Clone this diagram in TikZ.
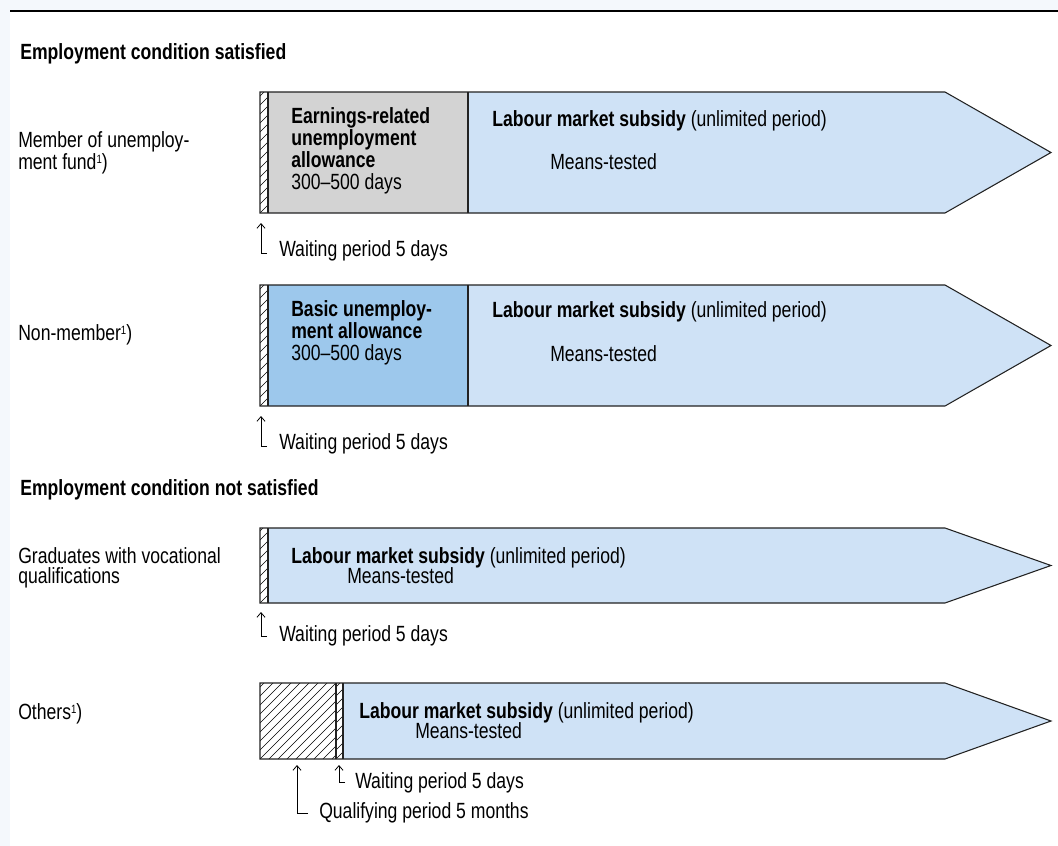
\documentclass[tikz,border=0pt]{standalone}
\usepackage{fontspec}
\setmainfont{Liberation Sans}[FakeStretch=0.80]
\usetikzlibrary{arrows.meta}
\definecolor{grayfill}{HTML}{D3D3D3}
\definecolor{lightblue}{HTML}{CFE2F6}
\definecolor{midblue}{HTML}{9DC8EC}
\definecolor{edgecol}{HTML}{222222}
\definecolor{bgtint}{HTML}{F4F8FC}
\newcommand\myhatch[4]{%
  \begin{scope}
    \clip (#1,#2) rectangle (#3,#4);
    \foreach \s in {-135,-126,...,95} {\draw[hatchline] (#1+\s,#4) -- ++(140,-140);}
  \end{scope}}
\newcommand\fn{\raisebox{4.5pt}{\fontsize{9}{9}\selectfont 1}}
\begin{document}
\begin{tikzpicture}[x=0.75pt,y=-0.75pt,
  txt/.style={anchor=base west,inner sep=0pt,font=\fontsize{16.5}{15}\selectfont},
  btxt/.style={txt,font=\fontsize{16.5}{15}\selectfont\bfseries},
  multi/.style={txt,align=left},
  hatchline/.style={line width=0.45pt,black},
  outline/.style={draw=edgecol,line width=0.8pt},
  arr/.style={line width=0.6pt,-{Straight Barb[length=3.5pt,width=6pt]}},
  rule/.style={line width=1.3pt,black}]
\useasboundingbox (0,0) rectangle (1058,846);
\fill[bgtint] (0,0) rectangle (1058,10);
\fill[bgtint] (0,0) rectangle (10,846);
\coordinate (ruleL) at (10,11);
\coordinate (ruleR) at (1058,11);
\draw[rule] (ruleL) -- (ruleR);

% headings
\node[btxt] (h1) at (20,59) {Employment condition satisfied};
\node[btxt] (h2) at (20,495) {Employment condition not satisfied};

% ---------- Row 1 ----------
\fill[lightblue] (268,92) -- (945,92) -- (1051,152.5) -- (945,213) -- (268,213) -- cycle;
\fill[grayfill] (268,92) rectangle (468,213);
\myhatch{260}{92}{268}{213}
\draw[outline] (260,92) -- (945,92) -- (1051,152.5) -- (945,213) -- (260,213) -- cycle;
\draw[outline] (268,92) -- (268,213);
\draw[outline] (468,92) -- (468,213);
\node[multi] (lab1) at (18,169) {Member of unemploy-\\ment fund\fn)};
\node[multi] (e1) at (291,189) {\textbf{Earnings-related}\\\textbf{unemployment}\\\textbf{allowance}\\[1.5pt]300–500 days};
\node[txt] (l1) at (492,126) {\textbf{Labour market subsidy} (unlimited period)};
\node[txt] (m1) at (550,169) {Means-tested};
\coordinate (t1) at (261,223);
\coordinate (c1) at (261,253);
\coordinate (e1end) at (267,253);
\draw[arr] (e1end) -- (c1) -- (t1);
\node[txt] (w1) at (279,256) {Waiting period 5 days};

% ---------- Row 2 ----------
\fill[lightblue] (268,285) -- (945,285) -- (1051,345.5) -- (945,406) -- (268,406) -- cycle;
\fill[midblue] (268,285) rectangle (468,406);
\myhatch{260}{285}{268}{406}
\draw[outline] (260,285) -- (945,285) -- (1051,345.5) -- (945,406) -- (260,406) -- cycle;
\draw[outline] (268,285) -- (268,406);
\draw[outline] (468,285) -- (468,406);
\node[txt] (lab2) at (18,340) {Non-member\fn)};
\node[multi] (b2) at (291,360) {\textbf{Basic unemploy-}\\\textbf{ment allowance}\\[1.5pt]300–500 days};
\node[txt] (l2) at (492,317) {\textbf{Labour market subsidy} (unlimited period)};
\node[txt] (m2) at (550,361) {Means-tested};
\coordinate (t2) at (261,416);
\coordinate (c2) at (261,446);
\coordinate (e2end) at (267,446);
\draw[arr] (e2end) -- (c2) -- (t2);
\node[txt] (w2) at (279,449) {Waiting period 5 days};

% ---------- Row 3 ----------
\fill[lightblue] (268,528) -- (945,528) -- (1051,565.5) -- (945,603) -- (268,603) -- cycle;
\myhatch{260}{528}{268}{603}
\draw[outline] (260,528) -- (945,528) -- (1051,565.5) -- (945,603) -- (260,603) -- cycle;
\draw[outline] (268,528) -- (268,603);
\node[multi] (lab3) at (18,583) {Graduates with vocational\\qualifications};
\node[txt] (l3) at (291,563) {\textbf{Labour market subsidy} (unlimited period)};
\node[txt] (m3) at (347,583) {Means-tested};
\coordinate (t3) at (261,612);
\coordinate (c3) at (261,636);
\coordinate (e3end) at (267,636);
\draw[arr] (e3end) -- (c3) -- (t3);
\node[txt] (w3) at (279,641) {Waiting period 5 days};

% ---------- Row 4 ----------
\fill[lightblue] (343,683) -- (945,683) -- (1051,721) -- (945,759) -- (343,759) -- cycle;
\myhatch{260}{683}{336}{759}
\myhatch{336}{683}{343}{759}
\draw[outline] (260,683) -- (945,683) -- (1051,721) -- (945,759) -- (260,759) -- cycle;
\draw[outline] (336,683) -- (336,759);
\draw[outline] (343,683) -- (343,759);
\node[txt] (lab4) at (18,719) {Others\fn)};
\node[txt] (l4) at (359,718) {\textbf{Labour market subsidy} (unlimited period)};
\node[txt] (m4) at (415,738) {Means-tested};
\coordinate (t4) at (339,765);
\coordinate (c4) at (339,782);
\coordinate (e4end) at (345,782);
\draw[arr] (e4end) -- (c4) -- (t4);
\node[txt] (w4) at (355,788) {Waiting period 5 days};
\coordinate (t5) at (297,765);
\coordinate (c5) at (297,813);
\coordinate (e5end) at (308,813);
\draw[arr] (e5end) -- (c5) -- (t5);
\node[txt] (q4) at (319,818) {Qualifying period 5 months};
\end{tikzpicture}
\end{document}
